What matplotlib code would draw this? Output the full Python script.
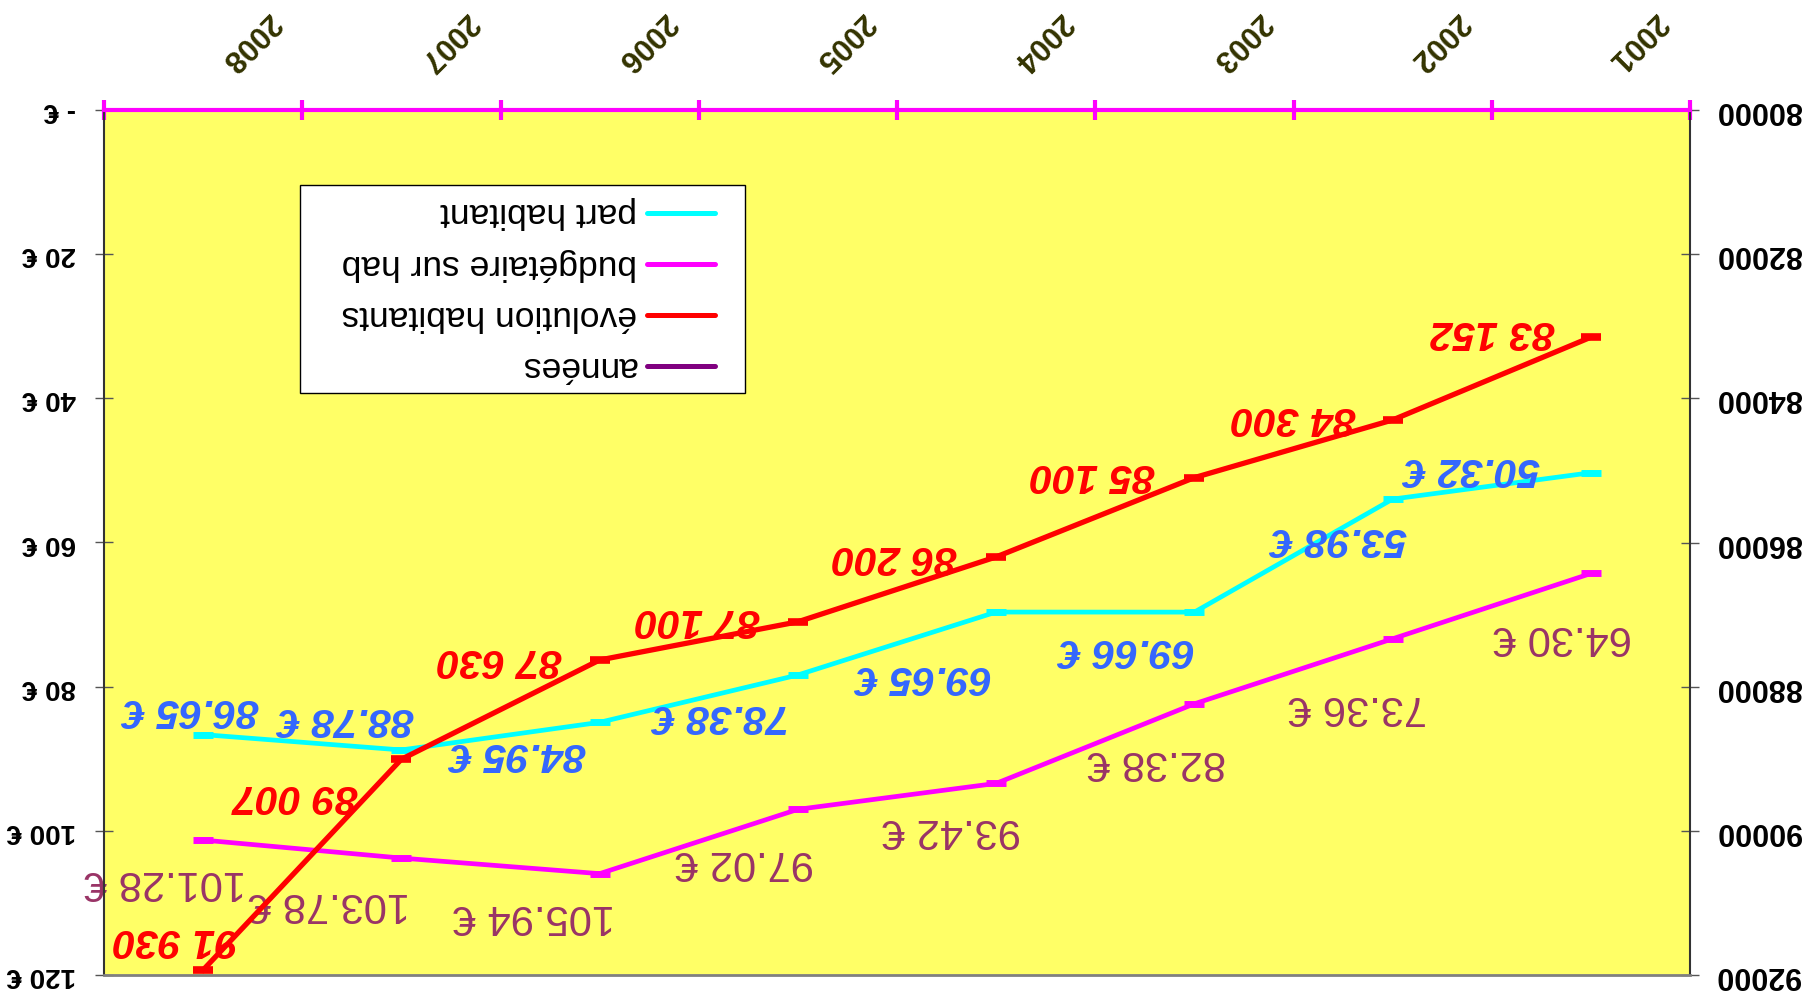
import matplotlib.pyplot as plt
from matplotlib.lines import Line2D
from matplotlib.patches import Rectangle

plt.rcParams['font.family'] = ['Liberation Sans', 'DejaVu Sans']

# donnees
annees = ['2001', '2002', '2003', '2004', '2005', '2006', '2007', '2008']
habitants = [83152, 84300, 85100, 86200, 87100, 87630, 89007, 91930]
part_habitant = [50.32, 53.98, 69.66, 69.65, 78.38, 84.95, 88.78, 86.65]
budget_hab = [64.30, 73.36, 82.38, 93.42, 97.02, 105.94, 103.78, 101.28]

hab_ticks = [80000, 82000, 84000, 86000, 88000, 90000, 92000]
euro_ticks = [0, 20, 40, 60, 80, 100, 120]

# decalage des etiquettes (pixels)
off_hab = [(-98, 5), (-99, 2), (-102, 3), (-102, 0), (-100, 2), (-100, 0), (-106, -37), (-28, 30)]
off_part = [(-119, 4), (-54, -40), (-68, -38), (-72, -65), (-77, -41), (-82, -32), (-56, 31), (-12, 25)]
off_budget = [(-28, -64), (-35, -68), (-38, -58), (-45, -47), (-53, -53), (-66, -42), (-72, -46), (-38, -42)]

W, H = 1814, 996
fig = plt.figure(figsize=(W / 100, H / 100), dpi=100)
ax = fig.add_axes([104 / W, 1 - 975 / H, (1690 - 104) / W, (975 - 110) / H])
ax2 = ax.twinx()

x = list(range(len(annees)))

# axe des euros (gauche)
ax2.set_zorder(1)
ax2.patch.set_visible(True)
ax2.set_facecolor('#FFFF66')
ax2.plot(x, budget_hab, color='#FF00FF', lw=3.4, marker='_', ms=15, mew=5)
ax2.plot(x, part_habitant, color='#00FFFF', lw=3.4, marker='_', ms=15, mew=5)
ax2.set_ylim(120, 0)
ax2.yaxis.tick_left()
ax2.set_yticks(euro_ticks, ['- €' if v == 0 else f'{v} €' for v in euro_ticks],
               fontweight='bold', rotation=180, va='center')
ax2.tick_params(axis='y', direction='inout', length=13, width=1, color='#555555',
                labelsize=20, pad=14)
for s in ax2.spines.values():
    s.set_visible(False)

for i, v in enumerate(part_habitant):
    ax2.annotate(f'{v:.2f} €', (i, v), xytext=off_part[i], textcoords='offset pixels',
                 ha='center', va='center', rotation=180, fontsize=29.5,
                 fontweight='bold', fontstyle='italic', color='#3366FF')
for i, v in enumerate(budget_hab):
    ax2.annotate(f'{v:.2f} €', (i, v), xytext=off_budget[i], textcoords='offset pixels',
                 ha='center', va='center', rotation=180, fontsize=30, color='#993366')

# axe des habitants (droite)
ax.set_zorder(2)
ax.patch.set_visible(False)
ax.plot(x, habitants, color='#FF0000', lw=3.8, marker='_', ms=15, mew=5.5)
ax.set_xlim(7.5, -0.5)
ax.set_ylim(92000, 80000)
ax.yaxis.tick_right()
ax.set_yticks(hab_ticks, [str(v) for v in hab_ticks], fontweight='bold', rotation=180, va='center')
ax.tick_params(axis='y', direction='inout', length=13, width=1, color='#555555',
               labelsize=22, pad=12)
ax.xaxis.tick_top()
ax.set_xticks([i - 0.5 for i in range(len(annees) + 1)])
ax.tick_params(axis='x', direction='inout', length=15, width=3, color='#FF00FF', labeltop=False)
ax.spines['top'].set_color('#FF00FF')
ax.spines['top'].set_linewidth(3)
for side in ['left', 'right']:
    ax.spines[side].set_color('#333333')
    ax.spines[side].set_linewidth(1.5)
ax.spines['bottom'].set_color('#808080')
ax.spines['bottom'].set_linewidth(2)

for i, v in enumerate(habitants):
    ax.annotate(f'{v:,}'.replace(',', ' '), (i, v), xytext=off_hab[i], textcoords='offset pixels',
                ha='center', va='center', rotation=180, fontsize=29.5,
                fontweight='bold', fontstyle='italic', color='#FF0000')

for i, yr in enumerate(annees):
    ax.annotate(yr, (i, 1), xycoords=('data', 'axes fraction'), xytext=(46, 68),
                textcoords='offset pixels', rotation=225, ha='center', va='center',
                fontsize=22, fontweight='bold', color='#333300', annotation_clip=False)

# legende (dessinee a la main, a l'envers)
fig.add_artist(Rectangle((300 / W, 1 - 393 / H), 445 / W, 208 / H, transform=fig.transFigure,
                         facecolor='white', edgecolor='black', lw=1, zorder=5))
leg = [('part habitant', '#00FFFF'), ('budgétaire sur hab', '#FF00FF'),
       ('évolution habitants', '#FF0000'), ('années', '#800080')]
for k, (lab, col) in enumerate(leg):
    yy = 1 - (213 + k * 51) / H
    fig.add_artist(Line2D([647 / W, 715 / W], [yy, yy], transform=fig.transFigure,
                          color=col, lw=3.6, solid_capstyle='round', zorder=6))
    fig.text(637 / W, yy, lab, rotation=180, rotation_mode='anchor', ha='left', va='center',
             fontsize=25.5, color='black', zorder=6)

fig.savefig('out.png', dpi=100)
